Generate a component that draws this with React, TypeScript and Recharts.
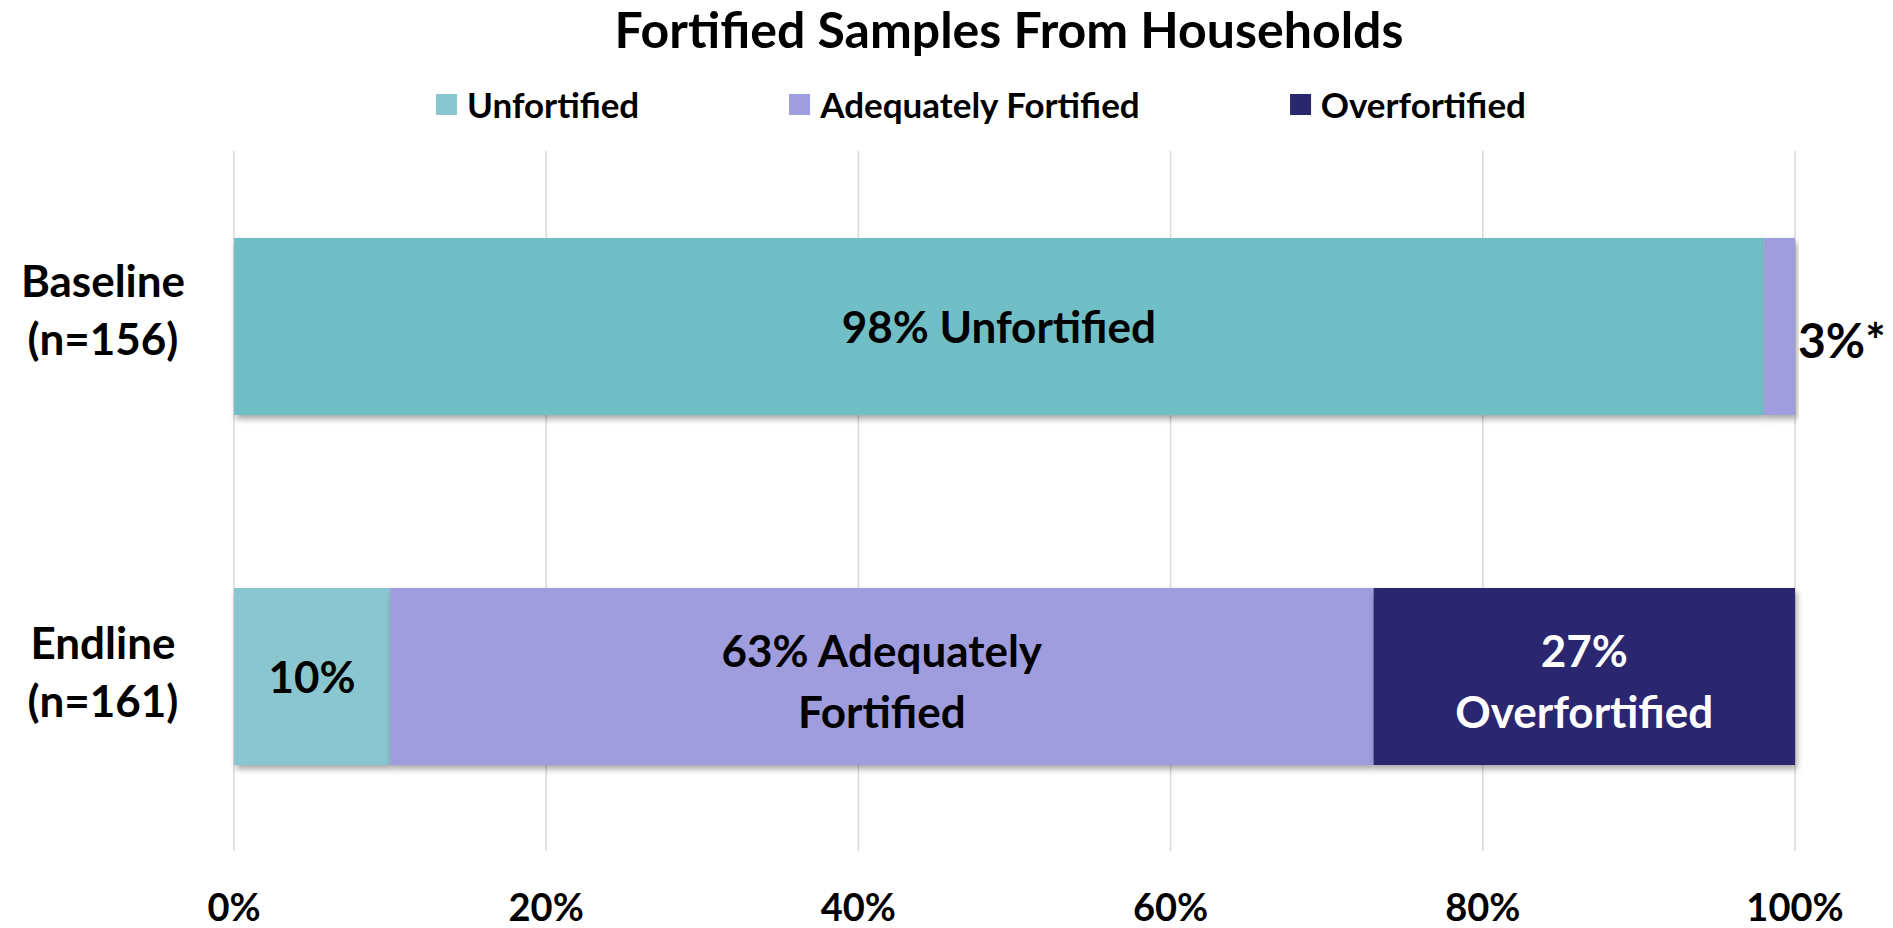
import { BarChart, Bar, XAxis, YAxis, CartesianGrid, Cell, LabelList } from "recharts";

const categories = ["Baseline", "Endline"];
const sampleSizes = ["(n=156)", "(n=161)"];
const unfortified = [98, 10];
const adequatelyFortified = [2, 63];
const overfortified = [0, 27];
const xTicks = [0, 20, 40, 60, 80, 100];

const unfortifiedLabels = [["98% Unfortified"], ["10%"]];
const adequateLabels = [["3%*"], ["63% Adequately", "Fortified"]];
const overLabels = [[], ["27%", "Overfortified"]];

const legendNames = ["Unfortified", "Adequately Fortified", "Overfortified"];
const legendColors = ["#8AC6CF", "#9F9DDE", "#29286F"];
const unfortifiedColors = ["#71BFC6", "#8AC6CF"];

const FONT = "Lato, 'Open Sans', sans-serif";

const data = categories.map((name, i) => ({
  name,
  unfortified: unfortified[i],
  adequate: adequatelyFortified[i],
  over: overfortified[i],
}));

// label content keyed by category name (value of LabelList is the row's name)
function makeLabel(lines: string[][], fill: string) {
  return (props: any) => {
    const { x, y, width, height, value } = props;
    const idx = categories.indexOf(value);
    const ls = lines[idx] || [];
    if (!ls.length) return null;
    const cy = Number(y) + Number(height) / 2;
    if (Number(width) < 60) {
      const fs = 48;
      return (
        <text x={Number(x) + Number(width) + 3} y={cy + 14 + 0.36 * fs} fontSize={fs} fontWeight={700} fontFamily={FONT} fill="#000">
          {ls[0]}
        </text>
      );
    }
    const fs = 44;
    const lh = 61;
    const start = cy - ((ls.length - 1) * lh) / 2 + (ls.length > 1 ? 5 : 1);
    return (
      <text textAnchor="middle" fontSize={fs} fontWeight={700} fontFamily={FONT} fill={fill}>
        {ls.map((l, k) => (
          <tspan key={k} x={Number(x) + Number(width) / 2} y={start + k * lh + 0.36 * fs}>
            {l}
          </tspan>
        ))}
      </text>
    );
  };
}

function CategoryTick(props: any) {
  const { y, index } = props;
  const fs = 44;
  const shift = index === 0 ? -16 : -4;
  return (
    <text textAnchor="middle" fontSize={fs} fontWeight={700} fontFamily={FONT} fill="#000">
      <tspan x={103} y={y - 29 + shift + 0.36 * fs}>{categories[index]}</tspan>
      <tspan x={103} y={y + 29 + shift + 0.36 * fs}>{sampleSizes[index]}</tspan>
    </text>
  );
}

function PercentTick(props: any) {
  const { x, y, payload } = props;
  return (
    <text x={x} y={y + 70} textAnchor="middle" fontSize={38} fontWeight={700} fontFamily={FONT} fill="#000">
      {payload.value}%
    </text>
  );
}

export default function App() {
  return (
    <div style={{ position: "absolute", left: 0, top: 0, width: 1893, height: 928, background: "#fff", fontFamily: FONT }}>
      <div
        style={{
          position: "absolute",
          left: 1009,
          top: 1,
          transform: "translateX(-50%)",
          fontSize: 50,
          fontWeight: 700,
          lineHeight: "56px",
          whiteSpace: "nowrap",
        }}
      >
        Fortified Samples From Households
      </div>
      <div
        style={{
          position: "absolute",
          left: 981,
          top: 84,
          transform: "translateX(-50%)",
          display: "flex",
          gap: 150,
          whiteSpace: "nowrap",
        }}
      >
        {legendNames.map((n, i) => (
          <div key={n} style={{ display: "flex", alignItems: "center", gap: 10, fontSize: 35, fontWeight: 700, lineHeight: "40px" }}>
            <span style={{ width: 21, height: 21, background: legendColors[i], display: "inline-block" }} />
            {n}
          </div>
        ))}
      </div>
      <BarChart
        width={1893}
        height={928}
        data={data}
        layout="vertical"
        margin={{ top: 151, right: 98, bottom: 0, left: 0 }}
        style={{ position: "absolute", left: 0, top: 0 }}
      >
        <defs>
          <filter id="barShadow" x="-5%" y="-10%" width="115%" height="130%">
            <feDropShadow dx="2" dy="4" stdDeviation="3" floodColor="#000" floodOpacity="0.35" />
          </filter>
        </defs>
        <CartesianGrid horizontal={false} stroke="#d9d9d9" strokeWidth={1.5} />
        <XAxis
          type="number"
          domain={[0, 100]}
          ticks={xTicks}
          height={77}
          axisLine={false}
          tickLine={false}
          tickSize={0}
          tickMargin={0}
          tick={<PercentTick />}
          interval={0}
        />
        <YAxis type="category" dataKey="name" width={234} axisLine={false} tickLine={false} tick={<CategoryTick />} />
        <Bar dataKey="unfortified" stackId="a" barSize={177} isAnimationActive={false} filter="url(#barShadow)">
          {data.map((d, i) => (
            <Cell key={d.name} fill={unfortifiedColors[i]} />
          ))}
          <LabelList dataKey="name" content={makeLabel(unfortifiedLabels, "#000")} />
        </Bar>
        <Bar dataKey="adequate" stackId="a" fill={legendColors[1]} barSize={177} isAnimationActive={false} filter="url(#barShadow)">
          <LabelList dataKey="name" content={makeLabel(adequateLabels, "#000")} />
        </Bar>
        <Bar dataKey="over" stackId="a" fill={legendColors[2]} barSize={177} isAnimationActive={false} filter="url(#barShadow)">
          <LabelList dataKey="name" content={makeLabel(overLabels, "#fff")} />
        </Bar>
      </BarChart>
    </div>
  );
}
